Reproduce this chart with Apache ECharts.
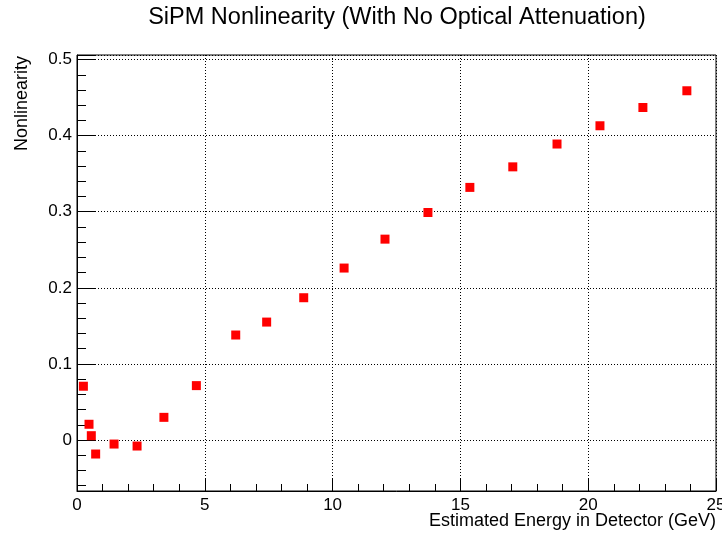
<!DOCTYPE html>
<html>
<head>
<meta charset="utf-8">
<script src="https://cdn.jsdelivr.net/npm/echarts@6/dist/echarts.min.js"></script>
<style>html,body{margin:0;padding:0;background:#fff;}#c{width:722px;height:533px;}</style>
</head>
<body>
<div id="c"></div>
<script>
const titleText = 'SiPM Nonlinearity (With No Optical Attenuation)';
const xTitle = 'Estimated Energy in Detector (GeV)';
const yTitle = 'Nonlinearity';
const energy = [0.25, 0.47, 0.56, 0.73, 1.45, 2.35, 3.40, 4.67, 6.21, 7.42, 8.87, 10.45, 12.05, 13.73, 15.37, 17.05, 18.78, 20.46, 22.14, 23.86];
const nonlinearity = [0.0707, 0.0207, 0.0057, -0.0184, -0.0053, -0.0079, 0.0298, 0.0715, 0.138, 0.155, 0.187, 0.226, 0.264, 0.299, 0.332, 0.359, 0.389, 0.413, 0.437, 0.459];
const xRange = [0, 25];
const yRange = [-0.067, 0.506];

const FONT = '"Liberation Sans", Arial, Helvetica, sans-serif';
const chart = echarts.init(document.getElementById('c'), null, {renderer: 'canvas'});
const pts = energy.map((x, i) => [x, nonlinearity[i]]);
chart.setOption({
  animation: false,
  backgroundColor: '#fff',
  grid: {left: 77, top: 55, right: 6, bottom: 42, show: true, borderColor: '#000', borderWidth: 1,
         backgroundColor: 'transparent', containLabel: false, outerBoundsMode: 'none'},
  xAxis: {
    type: 'value', min: xRange[0], max: xRange[1], interval: 5,
    axisLine: {show: true, onZero: false, lineStyle: {color: '#000', width: 1}},
    axisTick: {show: true, inside: true, length: 13, lineStyle: {color: '#000'}},
    minorTick: {show: true, splitNumber: 5, length: 7, lineStyle: {color: '#000'}},
    axisLabel: {color: '#000', fontFamily: FONT, fontSize: 17, margin: 6, hideOverlap: false},
    splitLine: {show: true, lineStyle: {color: '#000', type: [1, 2], width: 1}}
  },
  yAxis: {
    type: 'value', min: yRange[0], max: yRange[1], splitNumber: 5,
    axisLine: {show: true, onZero: false, lineStyle: {color: '#000', width: 1}},
    axisTick: {show: true, inside: true, length: 19, lineStyle: {color: '#000'}},
    minorTick: {show: true, splitNumber: 5, length: 9, lineStyle: {color: '#000'}},
    axisLabel: {
      color: '#000', fontFamily: FONT, fontSize: 17, margin: 5,
      formatter: function (v) {
        const r = Math.round(v * 10);
        if (Math.abs(v * 10 - r) > 1e-6) return '';
        return r === 0 ? '0' : (r / 10).toString();
      }
    },
    splitLine: {show: true, lineStyle: {color: '#000', type: [1, 2], width: 1}}
  },
  graphic: [
    {type: 'text', x: 397, y: 18, style: {text: titleText, fontFamily: FONT, fontSize: 23.5, fill: '#000', align: 'center', verticalAlign: 'middle'}},
    {type: 'text', x: 716, y: 521, style: {text: xTitle, fontFamily: FONT, fontSize: 18, fill: '#000', align: 'right', verticalAlign: 'middle'}},
    {type: 'text', x: 22, y: 56, rotation: Math.PI / 2, style: {text: yTitle, fontFamily: FONT, fontSize: 18, fill: '#000', align: 'right', verticalAlign: 'middle'}}
  ],
  series: [{
    type: 'scatter', data: pts, symbol: 'rect', symbolSize: 9,
    itemStyle: {color: '#ff0000', opacity: 1}
  }]
});
</script>
</body>
</html>
